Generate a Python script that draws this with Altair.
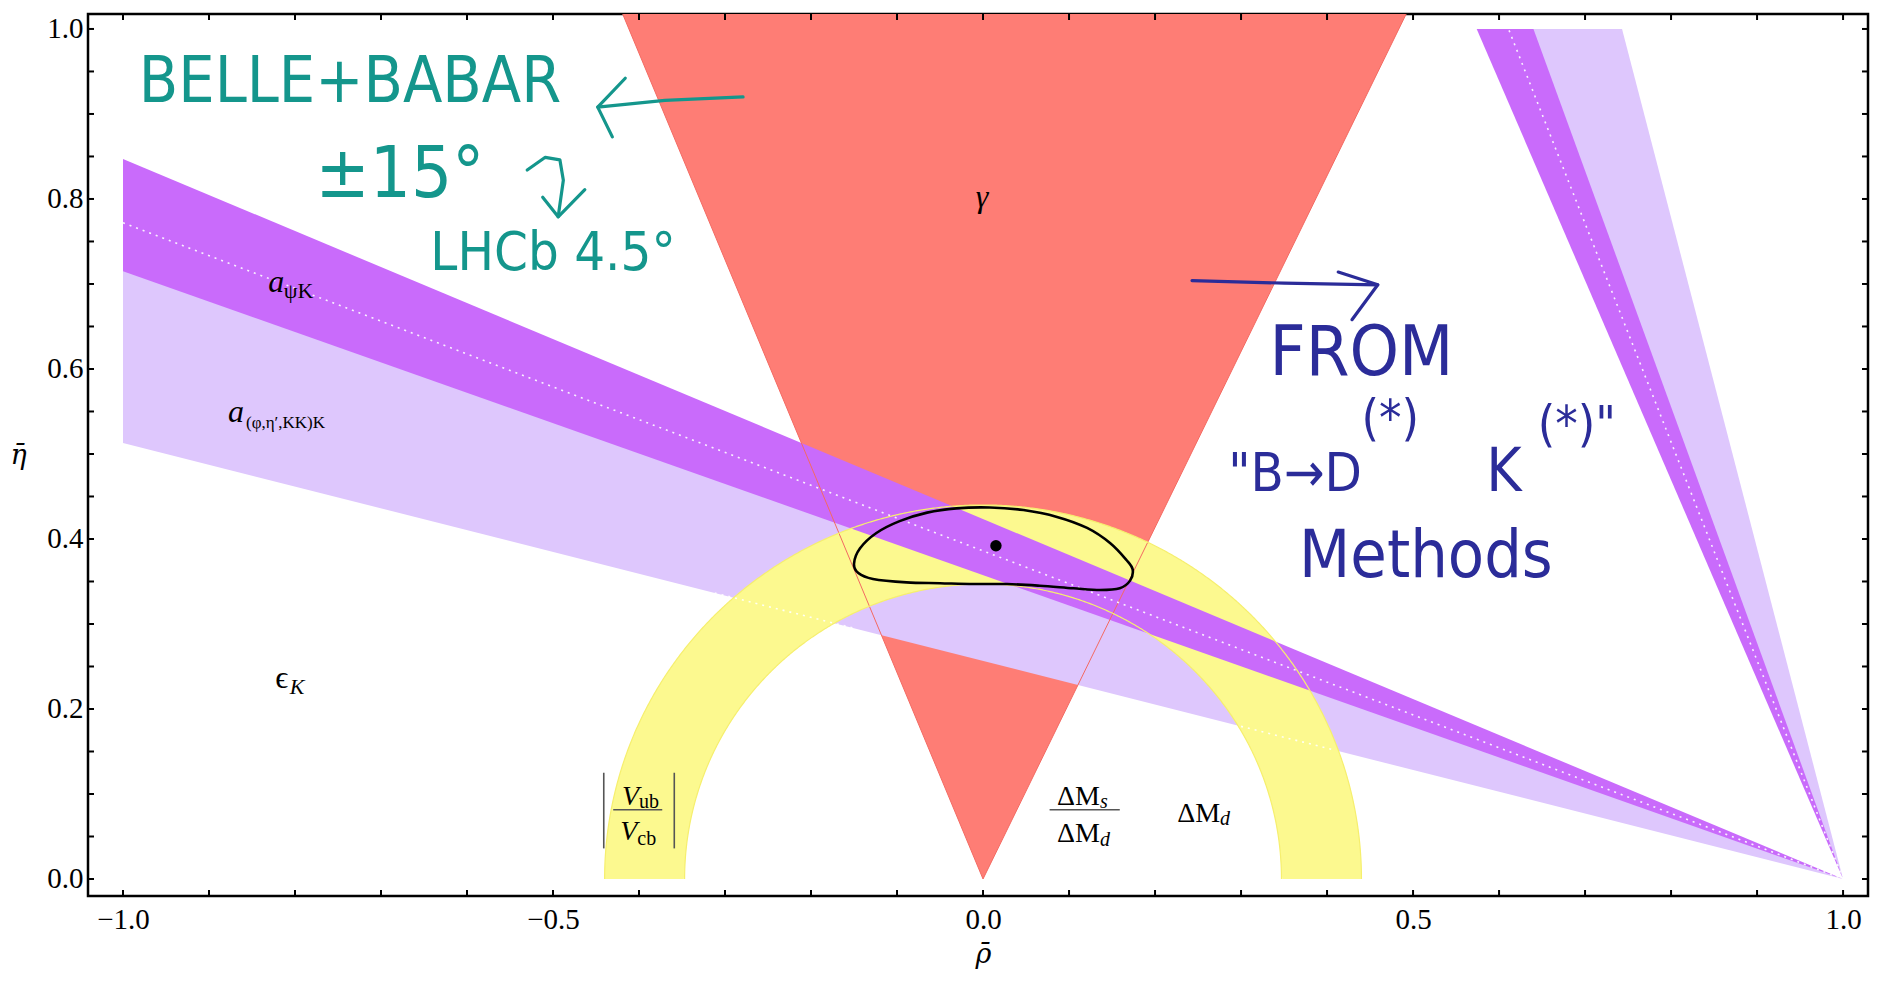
import altair as alt
import numpy as np
import pandas as pd

# ---------------- data ----------------
X_DOMAIN = [-1.0407, 1.029]
Y_DOMAIN = [-0.02, 1.0176]
W, H = 1780, 882

# gamma wedge: apex at origin, edges reach the top frame at these rho
GAMMA_ETA = [0.0, 1.0176]
GAMMA_LEFT = [0.0, -0.419]
GAMMA_RIGHT = [0.0, 0.492]

# sin(2beta) bands, shallow solution (lines through (1,0)); eta at rho = -1 and rho = 1
BAND_RHO = [-1.0, 1.0]
DARK_UPPER = [0.847, 0.0]
DARK_CENTER = [0.772, 0.0]
DARK_LOWER = [0.715, 0.0]
LIGHT_LOWER = [0.513, 0.0]

# steep solution: rho at eta = 0 and eta = 1
STEEP_ETA = [0.0, 1.0]
STEEP_DARK_LEFT = [1.0, 0.574]
STEEP_DARK_CENTER = [1.0, 0.611]
STEEP_DARK_RIGHT = [1.0, 0.640]
STEEP_LIGHT_RIGHT = [1.0, 0.743]

# |Vub/Vcb| annulus radii
R_INNER = 0.347
R_OUTER = 0.440

# dotted lower edge of the light band, visible over the yellow annulus (rho ranges)
DOT_SEGMENTS = [(-0.312, -0.151), (0.300, 0.406)]

# fit contour and best-fit point
ELL_RHO = [-0.150, -0.143, -0.124, -0.097, -0.065, -0.031, 0.008, 0.047, 0.086, 0.121,
           0.148, 0.167, 0.174, 0.171, 0.159, 0.136, 0.105, 0.066, 0.028, -0.011,
           -0.050, -0.089, -0.128, -0.145]
ELL_ETA = [0.371, 0.389, 0.407, 0.421, 0.431, 0.436, 0.437, 0.434, 0.426, 0.413,
           0.395, 0.375, 0.364, 0.351, 0.342, 0.340, 0.342, 0.345, 0.347, 0.347,
           0.348, 0.349, 0.353, 0.360]
BEST_FIT = [0.015, 0.392]

# tick positions
X_TICKS = [-1.0, -0.9, -0.8, -0.7, -0.6, -0.5, -0.4, -0.3, -0.2, -0.1, 0.0,
           0.1, 0.2, 0.3, 0.4, 0.5, 0.6, 0.7, 0.8, 0.9, 1.0]
Y_TICKS = [0.0, 0.05, 0.1, 0.15, 0.2, 0.25, 0.3, 0.35, 0.4, 0.45, 0.5,
           0.55, 0.6, 0.65, 0.7, 0.75, 0.8, 0.85, 0.9, 0.95, 1.0]
X_LABELS = [-1.0, -0.5, 0.0, 0.5, 1.0]
Y_LABELS = [0.0, 0.2, 0.4, 0.6, 0.8, 1.0]

# physics labels: (text, rho, eta, size, italic, align)
PHYS_LABELS = [
    ("γ", -0.001, 0.791, 32, True, "center"),
    ("a", -0.831, 0.691, 32, True, "left"),
    ("ψK", -0.813, 0.683, 22, False, "left"),
    ("a", -0.878, 0.538, 32, True, "left"),
    ("(φ,η′,KK)K", -0.857, 0.531, 17, False, "left"),
    ("ϵ", -0.823, 0.225, 32, False, "left"),
    ("K", -0.806, 0.218, 22, True, "left"),
    ("V", -0.400, 0.087, 28, True, "right"),
    ("ub", -0.400, 0.084, 20, False, "left"),
    ("V", -0.402, 0.046, 28, True, "right"),
    ("cb", -0.402, 0.040, 20, False, "left"),
    ("ΔM", 0.136, 0.087, 28, False, "right"),
    ("s", 0.136, 0.083, 20, True, "left"),
    ("ΔM", 0.136, 0.044, 28, False, "right"),
    ("d", 0.136, 0.039, 20, True, "left"),
    ("ΔM", 0.2756, 0.0674, 28, False, "right"),
    ("d", 0.2756, 0.063, 20, True, "left"),
]
# fraction bars and absolute-value bars: (rho, eta, rho2, eta2)
FRACTION_RULES = [
    (-0.430, 0.0815, -0.373, 0.0815),
    (0.0774, 0.0815, 0.159, 0.0815),
    (-0.441, 0.036, -0.441, 0.125),
    (-0.359, 0.036, -0.359, 0.125),
]

# handwritten notes: (text, rho, eta, size, align, baseline, colour)
TEAL = "#14968C"
NAVY = "#2B2C99"
NOTES = [
    ("BELLE+BABAR", -0.736, 0.936, 64, "center", "middle", TEAL),
    ("±15°", -0.678, 0.828, 72, "center", "middle", TEAL),
    ("LHCb 4.5°", -0.500, 0.735, 54, "center", "middle", TEAL),
    ("FROM", 0.440, 0.618, 70, "center", "middle", NAVY),
    ("Methods", 0.515, 0.379, 66, "center", "middle", NAVY),
    ("\"B→D", 0.285, 0.456, 54, "left", "alphabetic", NAVY),
    ("(*)", 0.440, 0.522, 50, "left", "alphabetic", NAVY),
    ("K", 0.585, 0.456, 60, "left", "alphabetic", NAVY),
    ("(*)\"", 0.645, 0.515, 50, "left", "alphabetic", NAVY),
]
# hand-drawn arrow strokes: stroke id -> list of (rho, eta)
NOTE_STROKES = {
    ("t1", TEAL): [(-0.279, 0.920), (-0.37, 0.916), (-0.448, 0.908)],
    ("t2", TEAL): [(-0.416, 0.942), (-0.448, 0.908), (-0.431, 0.873)],
    ("t3", TEAL): [(-0.530, 0.834), (-0.509, 0.849), (-0.492, 0.846), (-0.488, 0.822), (-0.494, 0.779)],
    ("t4", TEAL): [(-0.512, 0.802), (-0.494, 0.779), (-0.463, 0.811)],
    ("b1", NAVY): [(0.243, 0.704), (0.35, 0.701), (0.459, 0.699)],
    ("b2", NAVY): [(0.413, 0.714), (0.459, 0.699), (0.429, 0.658)],
}

RED = "#FE7D75"
DARK = "#C96BFB"
LIGHT = "#DEC7FD"
YELLOW = "#FCF98F"
SERIF = "Liberation Serif"
TITLE_FONT = "DejaVu Serif"
HAND = "Liberation Sans Narrow, DejaVu Sans Condensed, Liberation Sans, sans-serif"

# ---------------- chart ----------------
xs = alt.Scale(domain=X_DOMAIN, nice=False, zero=False)
ys = alt.Scale(domain=Y_DOMAIN, nice=False, zero=False)
x_axis = alt.Axis(values=X_LABELS, format=".1f", ticks=False, domain=False, grid=False,
                  labelFont=SERIF, labelFontSize=29, labelColor="black", labelPadding=9,
                  labelFlush=False, labelOverlap=False,
                  title="ρ̄", titleFont=TITLE_FONT, titleFontSize=27, titleFontStyle="italic",
                  titleFontWeight="normal", titleColor="black", titleX=895, titleY=58,
                  titleBaseline="middle", titleAlign="center")
y_axis = alt.Axis(values=Y_LABELS, format=".1f", ticks=False, domain=False, grid=False,
                  labelFont=SERIF, labelFontSize=29, labelColor="black", labelPadding=5,
                  labelFlush=False, labelOverlap=False,
                  title="η̄", titleFont=TITLE_FONT, titleFontSize=27, titleFontStyle="italic",
                  titleFontWeight="normal", titleColor="black", titleAngle=0, titleX=-70,
                  titleY=441, titleBaseline="middle", titleAlign="center")


def X(f):
    return alt.X(f, type="quantitative", scale=xs, axis=x_axis)


def Y(f):
    return alt.Y(f, type="quantitative", scale=ys, axis=y_axis)


layers = []

# red gamma wedge
wedge_df = pd.DataFrame({"eta": GAMMA_ETA, "lo": GAMMA_LEFT, "hi": GAMMA_RIGHT})
layers.append(alt.Chart(wedge_df).mark_area(orient="horizontal", color=RED, clip=True)
              .encode(y=Y("eta"), x=X("lo"), x2="hi"))

# light bands
light_df = pd.DataFrame({"rho": BAND_RHO, "lo": LIGHT_LOWER, "hi": DARK_CENTER})
layers.append(alt.Chart(light_df).mark_area(color=LIGHT, clip=True)
              .encode(x=X("rho"), y=Y("lo"), y2="hi"))
light_steep_df = pd.DataFrame({"eta": STEEP_ETA, "lo": STEEP_DARK_CENTER, "hi": STEEP_LIGHT_RIGHT})
layers.append(alt.Chart(light_steep_df).mark_area(orient="horizontal", color=LIGHT, clip=True)
              .encode(y=Y("eta"), x=X("lo"), x2="hi"))

# yellow annulus
th = np.linspace(np.pi, 0, 721)
ax = R_OUTER * np.cos(th)
ann_df = pd.DataFrame({
    "rho": ax,
    "outer": np.sqrt(np.clip(R_OUTER ** 2 - ax ** 2, 0, None)),
    "inner": np.sqrt(np.clip(R_INNER ** 2 - ax ** 2, 0, None)),
})
layers.append(alt.Chart(ann_df).mark_area(color=YELLOW, clip=True)
              .encode(x=X("rho"), y=Y("outer"), y2="inner"))

# dark bands
dark_df = pd.DataFrame({"rho": BAND_RHO, "lo": DARK_LOWER, "hi": DARK_UPPER})
layers.append(alt.Chart(dark_df).mark_area(color=DARK, clip=True)
              .encode(x=X("rho"), y=Y("lo"), y2="hi"))
dark_steep_df = pd.DataFrame({"eta": STEEP_ETA, "lo": STEEP_DARK_LEFT, "hi": STEEP_DARK_RIGHT})
layers.append(alt.Chart(dark_steep_df).mark_area(orient="horizontal", color=DARK, clip=True)
              .encode(y=Y("eta"), x=X("lo"), x2="hi"))

# thin red wedge edges
edge_rows = []
for sid, xs_top in (("l", GAMMA_LEFT), ("r", GAMMA_RIGHT)):
    for i in range(2):
        edge_rows.append({"id": sid, "i": i, "rho": xs_top[i], "eta": GAMMA_ETA[i]})
layers.append(alt.Chart(pd.DataFrame(edge_rows)).mark_line(color="#F46A62", strokeWidth=1, clip=True)
              .encode(x=X("rho"), y=Y("eta"), detail="id:N", order="i:Q"))

# thin yellow outlines of the annulus
arc_rows = []
for sid, r in (("o", R_OUTER), ("n", R_INNER)):
    for i, t in enumerate(th):
        arc_rows.append({"id": sid, "i": i, "rho": r * np.cos(t), "eta": r * np.sin(t)})
layers.append(alt.Chart(pd.DataFrame(arc_rows)).mark_line(color="#F6EF6E", strokeWidth=1.2, clip=True)
              .encode(x=X("rho"), y=Y("eta"), detail="id:N", order="i:Q"))

# white dotted central / edge lines
dot_rows = []
for i in range(2):
    dot_rows.append({"id": "c", "i": i, "rho": BAND_RHO[i], "eta": DARK_CENTER[i]})
    dot_rows.append({"id": "s", "i": i, "rho": STEEP_DARK_CENTER[i], "eta": STEEP_ETA[i]})
for k, (a, b) in enumerate(DOT_SEGMENTS):
    for i, r in enumerate((a, b)):
        e = LIGHT_LOWER[0] + (r - BAND_RHO[0]) * (LIGHT_LOWER[1] - LIGHT_LOWER[0]) / (BAND_RHO[1] - BAND_RHO[0])
        dot_rows.append({"id": f"d{k}", "i": i, "rho": r, "eta": e})
layers.append(alt.Chart(pd.DataFrame(dot_rows))
              .mark_line(color="white", strokeWidth=1.6, strokeDash=[2, 5], opacity=0.9, clip=True)
              .encode(x=X("rho"), y=Y("eta"), detail="id:N", order="i:Q"))

# fit contour
ell_df = pd.DataFrame({"rho": ELL_RHO, "eta": ELL_ETA, "i": list(range(len(ELL_RHO)))})
layers.append(alt.Chart(ell_df).mark_line(color="black", strokeWidth=2.6, interpolate="cardinal-closed")
              .encode(x=X("rho"), y=Y("eta"), order="i:Q"))
layers.append(alt.Chart(pd.DataFrame({"rho": [BEST_FIT[0]], "eta": [BEST_FIT[1]]}))
              .mark_point(filled=True, color="black", size=130, opacity=1)
              .encode(x=X("rho"), y=Y("eta")))

# fraction and absolute-value rules
fr_df = pd.DataFrame(FRACTION_RULES, columns=["rho", "eta", "rho2", "eta2"])
layers.append(alt.Chart(fr_df).mark_rule(color="#555555", strokeWidth=1.6)
              .encode(x=X("rho"), y=Y("eta"), x2="rho2", y2="eta2"))

# physics labels
for t, r, e, s, it, al in PHYS_LABELS:
    layers.append(alt.Chart(pd.DataFrame({"rho": [r], "eta": [e], "t": [t]}))
                  .mark_text(font=SERIF, fontSize=s, fontStyle="italic" if it else "normal",
                             align=al, baseline="alphabetic", color="black")
                  .encode(x=X("rho"), y=Y("eta"), text="t:N"))

# handwritten notes
for t, r, e, s, al, bl, col in NOTES:
    layers.append(alt.Chart(pd.DataFrame({"rho": [r], "eta": [e], "t": [t]}))
                  .mark_text(font=HAND, fontSize=s, align=al, baseline=bl, color=col)
                  .encode(x=X("rho"), y=Y("eta"), text="t:N"))
for col in (TEAL, NAVY):
    rows = []
    for (sid, c), pts in NOTE_STROKES.items():
        if c != col:
            continue
        for i, (r, e) in enumerate(pts):
            rows.append({"id": sid, "i": i, "rho": r, "eta": e})
    layers.append(alt.Chart(pd.DataFrame(rows))
                  .mark_line(color=col, strokeWidth=3.2, strokeCap="round", strokeJoin="round")
                  .encode(x=X("rho"), y=Y("eta"), detail="id:N", order="i:Q"))

# inward ticks on all four sides
xt = pd.DataFrame({"v": X_TICKS})
yt = pd.DataFrame({"v": Y_TICKS})
layers.append(alt.Chart(xt).mark_rule(color="black", strokeWidth=2)
              .encode(x=X("v"), y=alt.value(H), y2=alt.value(H - 6)))
layers.append(alt.Chart(xt).mark_rule(color="black", strokeWidth=2)
              .encode(x=X("v"), y=alt.value(0), y2=alt.value(6)))
layers.append(alt.Chart(yt).mark_rule(color="black", strokeWidth=2)
              .encode(y=Y("v"), x=alt.value(0), x2=alt.value(6)))
layers.append(alt.Chart(yt).mark_rule(color="black", strokeWidth=2)
              .encode(y=Y("v"), x=alt.value(W), x2=alt.value(W - 6)))

chart = (alt.layer(*layers)
         .properties(width=W, height=H,
                     padding={"left": 80, "top": 6, "right": 3, "bottom": 76},
                     autosize=alt.AutoSizeParams(type="none"))
         .configure_view(stroke="black", strokeWidth=2.5))

chart.save("out.html", embed_options={"renderer": "svg", "actions": False})
